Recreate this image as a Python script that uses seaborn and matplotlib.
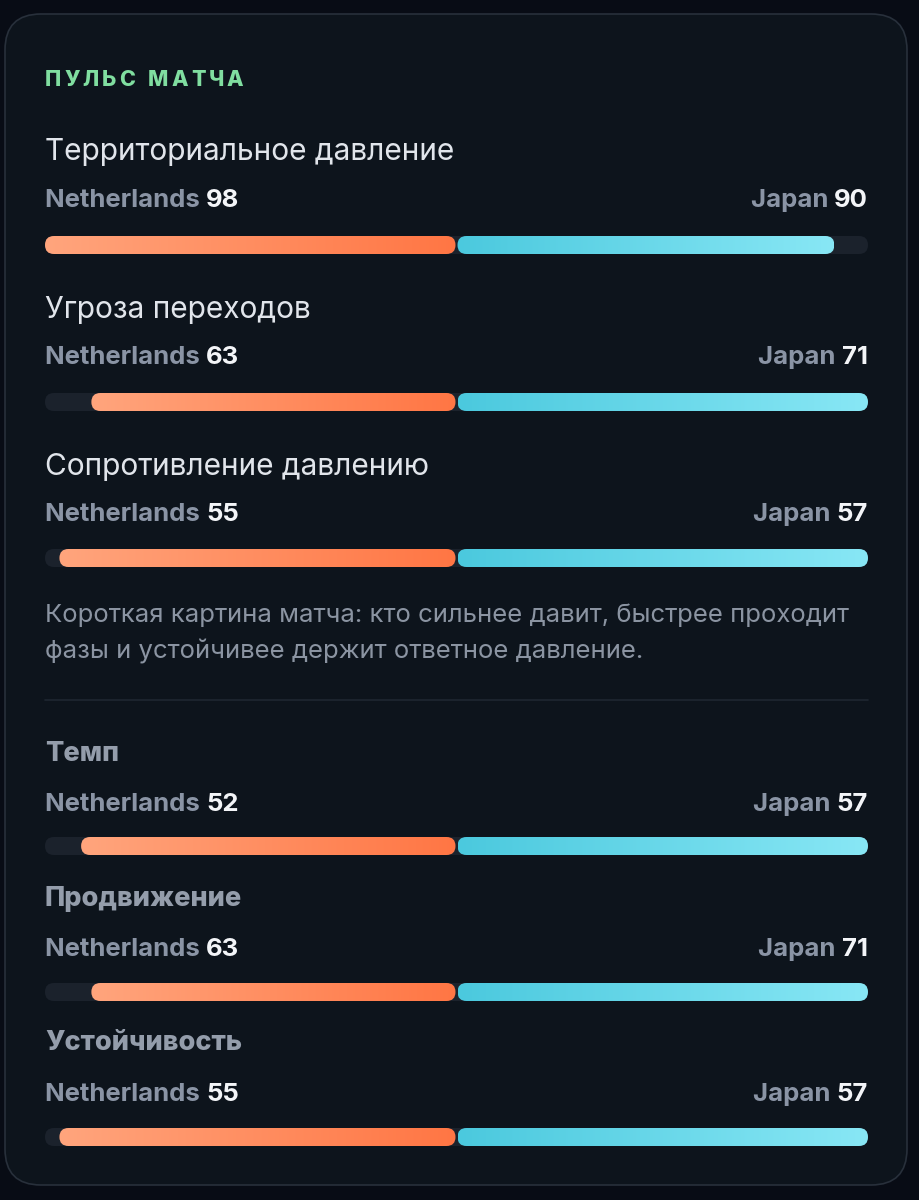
import matplotlib
matplotlib.use("Agg")
import numpy as np
import pandas as pd
import seaborn as sns
import matplotlib.pyplot as plt
from matplotlib.patches import FancyBboxPatch
from matplotlib.colors import to_rgb

title = "ПУЛЬС МАТЧА"
metrics = ["Территориальное давление", "Угроза переходов", "Сопротивление давлению",
           "Темп", "Продвижение", "Устойчивость"]
home_team = "Netherlands"
away_team = "Japan"
home_vals = [98, 63, 55, 52, 63, 55]
away_vals = [90, 71, 57, 57, 71, 57]
note_lines = ["Короткая картина матча: кто сильнее давит, быстрее проходит",
              "фазы и устойчивее держит ответное давление."]

# layout in pixels
W, H = 920, 1200
LEFT, RIGHT = 45, 868
head_base = [160, 318, 475, 761, 906, 1050]
label_base = [207, 364, 521, 811, 956, 1101]
bar_mid = [245, 402, 558, 846, 992, 1137]
BAR_H = 18

sns.set_theme(style="dark")
plt.rcParams["font.family"] = ["Inter", "DejaVu Sans"]

fig = plt.figure(figsize=(W / 100, H / 100), dpi=100, facecolor="#080c15")
bg = fig.add_axes([0, 0, 1, 1])
bg.set_xlim(0, W)
bg.set_ylim(H, 0)
bg.axis("off")
bg.set_autoscale_on(False)

bg.add_patch(FancyBboxPatch((5, 14), 902, 1171, boxstyle="round,pad=0,rounding_size=36",
                            fc="#0d141c", ec="#28303b", lw=1.2, zorder=1))

renderer = fig.canvas.get_renderer()


def width_px(t):
    return t.get_window_extent(renderer).width


def rounded_bar(x0, x1, yc, c0, c1=None, z=3):
    y0 = yc - BAR_H / 2
    box = FancyBboxPatch((x0, y0), x1 - x0, BAR_H,
                         boxstyle="round,pad=0,rounding_size=%f" % (BAR_H / 2),
                         fc=c0 if c1 is None else "none", ec="none", zorder=z)
    bg.add_patch(box)
    if c1 is not None:
        t = np.linspace(0, 1, 256)[None, :, None]
        img = (1 - t) * np.array(to_rgb(c0)) + t * np.array(to_rgb(c1))
        im = bg.imshow(img, extent=(x0, x1, y0 + BAR_H, y0), aspect="auto",
                       zorder=z, interpolation="bilinear")
        im.set_clip_path(box)


def spaced(x, y, s, gap, **kw):
    for ch in s:
        if ch == " ":
            x += kw.get("fontsize", 10) * 1.389 * 0.3 + gap
            continue
        t = bg.text(x, y, ch, **kw)
        x += width_px(t) + gap


# title
spaced(LEFT, 86, title, 3.0, fontsize=15.5, fontweight="heavy", color="#80dea0", va="baseline")

LAB = 18.5
for i, metric in enumerate(metrics):
    if i < 3:
        bg.text(LEFT, head_base[i], metric, fontsize=21.5, color="#e1e5eb", va="baseline")
    else:
        bg.text(LEFT, head_base[i], metric, fontsize=19.5, fontweight="heavy",
                color="#949dab", va="baseline")

    # team labels
    lab = bg.text(LEFT, label_base[i], home_team + " ", fontsize=LAB, fontweight="bold",
                  color="#8a94a5", va="baseline")
    bg.text(LEFT + width_px(lab), label_base[i], str(home_vals[i]), fontsize=LAB,
            fontweight="bold", color="#f3f5f8", va="baseline")
    val = bg.text(RIGHT, label_base[i], str(away_vals[i]), fontsize=LAB, fontweight="bold",
                  color="#f3f5f8", va="baseline", ha="right")
    bg.text(RIGHT - width_px(val), label_base[i], away_team + " ", fontsize=LAB,
            fontweight="bold", color="#8a94a5", va="baseline", ha="right")

    # bars, scaled to the row maximum
    m = max(home_vals[i], away_vals[i])
    yc = bar_mid[i]
    bax = fig.add_axes([LEFT / W, 1 - (yc + BAR_H / 2) / H, (RIGHT - LEFT) / W, BAR_H / H])
    df = pd.DataFrame({"team": [home_team, away_team],
                       "value": [-home_vals[i], away_vals[i]],
                       "row": [metric, metric]})
    sns.barplot(data=df, x="value", y="row", hue="team", orient="h", dodge=False,
                width=1, errorbar=None, legend=False, ax=bax,
                palette=["#ff8a5c", "#5fd3e6"])
    bax.set_xlim(-m, m)
    bax.axis("off")

    to_bg = lambda xs: bg.transData.inverted().transform(
        bax.transData.transform(np.column_stack([xs, np.zeros(len(xs))])))[:, 0]
    xl, xr = to_bg([-m, m])
    rounded_bar(xl, xr, yc, "#1b222c", z=2)
    for p in bax.patches:
        x0, x1 = sorted([p.get_x(), p.get_x() + p.get_width()])
        p.set_visible(False)
        a, b = to_bg([x0, x1])
        if x1 <= 0:
            rounded_bar(a, b - 1, yc, "#ffa57d", "#ff7644")
        else:
            rounded_bar(a + 1, b, yc, "#4bc9de", "#88e7f5")

# note + separator
bg.text(LEFT, 622, note_lines[0], fontsize=18.5, color="#8b94a2", va="baseline")
bg.text(LEFT, 658, note_lines[1], fontsize=18.5, color="#8b94a2", va="baseline")
bg.plot([LEFT, RIGHT], [700, 700], color="#1f2731", lw=1.2, zorder=2)

fig.savefig("out.png", dpi=100, facecolor=fig.get_facecolor())
